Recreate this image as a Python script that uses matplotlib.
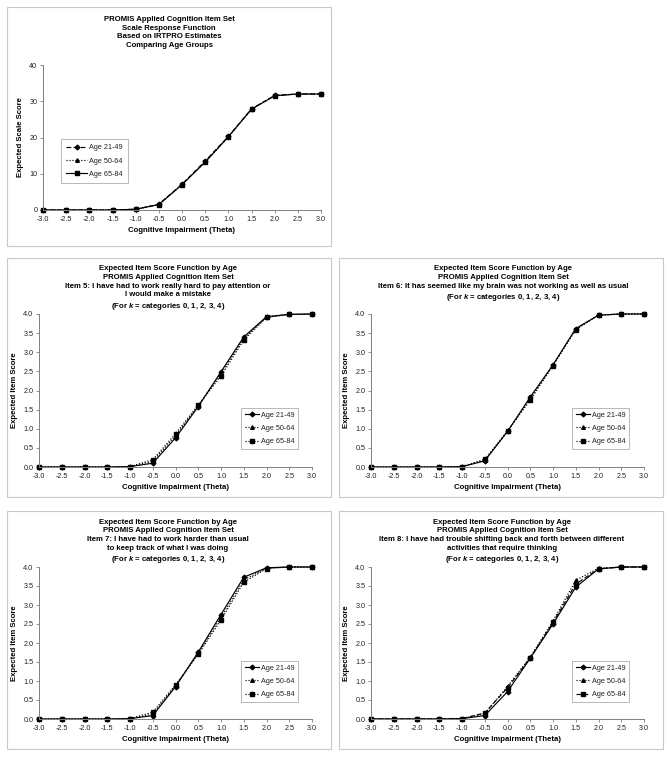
import matplotlib
matplotlib.use("Agg")
import matplotlib.pyplot as plt
from matplotlib.patches import Rectangle

plt.rcParams['font.family'] = ['Liberation Sans', 'DejaVu Sans']
plt.rcParams['mathtext.fontset'] = 'custom'
plt.rcParams['mathtext.it'] = 'Liberation Sans:bold:italic'
plt.rcParams['mathtext.rm'] = 'Liberation Sans:bold'

# ---------------- data ----------------
theta = [-3.0, -2.5, -2.0, -1.5, -1.0, -0.5, 0.0, 0.5, 1.0, 1.5, 2.0, 2.5, 3.0]
groups = ["Age 21-49", "Age 50-64", "Age 65-84"]

scale_21_49 = [0, 0, 0, 0, 0.2, 1.6, 7.1, 13.5, 20.3, 27.9, 31.6, 32.0, 32.0]
scale_50_64 = [0, 0, 0, 0, 0.2, 1.5, 7.0, 13.3, 20.1, 27.8, 31.6, 32.0, 32.0]
scale_65_84 = [0, 0, 0, 0, 0.2, 1.5, 7.0, 13.2, 20.2, 27.8, 31.5, 32.0, 32.0]

item5_21_49 = [0, 0, 0, 0, 0.01, 0.10, 0.76, 1.58, 2.49, 3.40, 3.93, 3.99, 4.0]
item5_50_64 = [0, 0, 0, 0, 0.01, 0.15, 0.82, 1.60, 2.45, 3.36, 3.92, 3.99, 4.0]
item5_65_84 = [0, 0, 0, 0, 0.01, 0.19, 0.87, 1.62, 2.38, 3.32, 3.91, 3.99, 4.0]

item6_21_49 = [0, 0, 0, 0, 0.01, 0.16, 0.93, 1.83, 2.67, 3.62, 3.97, 4.0, 4.0]
item6_50_64 = [0, 0, 0, 0, 0.01, 0.18, 0.93, 1.79, 2.66, 3.60, 3.97, 4.0, 4.0]
item6_65_84 = [0, 0, 0, 0, 0.01, 0.20, 0.94, 1.75, 2.65, 3.59, 3.97, 4.0, 4.0]

item7_21_49 = [0, 0, 0, 0, 0.01, 0.09, 0.85, 1.76, 2.75, 3.73, 3.98, 4.0, 4.0]
item7_50_64 = [0, 0, 0, 0, 0.01, 0.13, 0.87, 1.73, 2.68, 3.66, 3.97, 4.0, 4.0]
item7_65_84 = [0, 0, 0, 0, 0.01, 0.18, 0.90, 1.70, 2.61, 3.60, 3.96, 4.0, 4.0]

item8_21_49 = [0, 0, 0, 0, 0.01, 0.09, 0.72, 1.60, 2.50, 3.47, 3.95, 4.0, 4.0]
item8_50_64 = [0, 0, 0, 0, 0.01, 0.14, 0.86, 1.63, 2.58, 3.65, 3.97, 4.0, 4.0]
item8_65_84 = [0, 0, 0, 0, 0.01, 0.16, 0.82, 1.61, 2.54, 3.55, 3.95, 4.0, 4.0]

x_ticks = [-3.0, -2.5, -2.0, -1.5, -1.0, -0.5, 0.0, 0.5, 1.0, 1.5, 2.0, 2.5, 3.0]
scale_yticks = [0, 10, 20, 30, 40]
item_yticks = [0.0, 0.5, 1.0, 1.5, 2.0, 2.5, 3.0, 3.5, 4.0]

scale_title = ("PROMIS Applied Cognition Item Set\nScale Response Function\n"
               "Based on IRTPRO Estimates\nComparing Age Groups")
item5_title = ("Expected Item Score Function by Age\nPROMIS Applied Cognition Item Set\n"
               "Item 5: I have had to work really hard to pay attention or\n"
               "I would make a mistake\n(For $k$ = categories 0, 1, 2, 3, 4)")
item6_title = ("Expected Item Score Function by Age\nPROMIS Applied Cognition Item Set\n"
               "Item 6: It has seemed like my brain was not working as well as usual\n"
               "(For $k$ = categories 0, 1, 2, 3, 4)")
item7_title = ("Expected Item Score Function by Age\nPROMIS Applied Cognition Item Set\n"
               "Item 7: I have had to work harder than usual\n"
               "to keep track of what I was doing\n(For $k$ = categories 0, 1, 2, 3, 4)")
item8_title = ("Expected Item Score Function by Age\nPROMIS Applied Cognition Item Set\n"
               "Item 8: I have had trouble shifting back and forth between different\n"
               "activities that require thinking\n(For $k$ = categories 0, 1, 2, 3, 4)")

# ---------------- layout ----------------
W, H = 670, 759
fig = plt.figure(figsize=(W / 100, H / 100), dpi=100)
fig.patch.set_facecolor('white')


def fx(px):
    return px / W


def fy(py):
    return 1 - py / H


def box(x0, y0, x1, y1):
    fig.patches.append(Rectangle((fx(x0), fy(y1)), fx(x1) - fx(x0), fy(y0) - fy(y1),
                                 transform=fig.transFigure, fill=False,
                                 edgecolor='#c8c8c8', lw=0.8))


def make_axes(l, r, t, b):
    return fig.add_axes([fx(l), fy(b), fx(r) - fx(l), fy(t) - fy(b)])


AXC = '#808080'
TXT = '#222222'


def style(ax, yticks, yfmt, ylabel):
    ax.set_xlim(-3, 3)
    ax.set_ylim(yticks[0], yticks[-1])
    ax.set_xticks(x_ticks)
    ax.set_xticklabels([f"{v:.1f}" for v in x_ticks])
    ax.set_yticks(yticks)
    ax.set_yticklabels([yfmt(v) for v in yticks])
    for s in ['top', 'right']:
        ax.spines[s].set_visible(False)
    for s in ['left', 'bottom']:
        ax.spines[s].set_color(AXC)
        ax.spines[s].set_linewidth(0.7)
    ax.tick_params(axis='both', colors=AXC, labelcolor=TXT, labelsize=5.2,
                   length=2.5, width=0.6, pad=1.5, direction='out')
    ax.set_xlabel("Cognitive Impairment (Theta)", fontsize=5.6, fontweight='bold',
                  labelpad=3, color='black')
    ax.set_ylabel(ylabel, fontsize=5.6, fontweight='bold', labelpad=4, color='black')
    ax.patch.set_alpha(0)


def plot_series(ax, ys, styles, legend_px, hl, pad):
    for y, lab, (ls, mk, ms) in zip(ys, groups, styles):
        ax.plot(theta, y, linestyle=ls, color='black', lw=0.85, marker=mk,
                markersize=ms, markerfacecolor='black', markeredgecolor='black',
                label=lab, clip_on=False)
    lx, ly = legend_px
    leg = ax.legend(loc='upper left', bbox_to_anchor=(fx(lx), fy(ly)),
                    bbox_transform=fig.transFigure, fontsize=5.2, frameon=True,
                    fancybox=False, edgecolor='#999999', handlelength=hl,
                    labelspacing=0.85, borderpad=pad, handletextpad=0.3,
                    borderaxespad=0)
    leg.get_frame().set_linewidth(0.6)
    for t in leg.get_texts():
        t.set_color(TXT)


def title(cx, cy, txt):
    fig.text(fx(cx), fy(cy), txt, ha='center', va='center', ma='center',
             fontsize=5.6, fontweight='bold', linespacing=1.35)


# panel borders
box(7, 7, 331, 246)
box(7, 258, 331, 497)
box(339, 258, 663, 497)
box(7, 511, 331, 749)
box(339, 511, 663, 749)

scale_styles = [((0, (4, 2)), 'D', 2.4), ((0, (1, 1.5)), '^', 2.6), ('-', 's', 2.4)]
item_styles = [('-', 'D', 2.4), ((0, (1, 1.5)), '^', 2.6), ((0, (1, 1.5)), 's', 2.6)]
item8_styles = [('-', 'D', 2.4), ((0, (1, 1.5)), '^', 2.6), ((0, (4, 2)), 's', 2.6)]

# top panel
ax0 = make_axes(43, 321, 65, 210)
plot_series(ax0, [scale_21_49, scale_50_64, scale_65_84], scale_styles, (61, 139), 2.8, 0.75)
style(ax0, scale_yticks, lambda v: f"{v:d}", "Expected Scale Score")
title(169, 32.5, scale_title)

# item 5
ax1 = make_axes(39, 312, 314, 467)
plot_series(ax1, [item5_21_49, item5_50_64, item5_65_84], item_styles, (241, 408), 2.0, 0.5)
style(ax1, item_yticks, lambda v: f"{v:.1f}", "Expected Item Score")
title(168, 288.5, item5_title)

# item 6
ax2 = make_axes(371, 644, 314, 467)
plot_series(ax2, [item6_21_49, item6_50_64, item6_65_84], item_styles, (572, 408), 2.0, 0.5)
style(ax2, item_yticks, lambda v: f"{v:.1f}", "Expected Item Score")
title(503, 284, item6_title)

# item 7
ax3 = make_axes(39, 312, 567, 719)
plot_series(ax3, [item7_21_49, item7_50_64, item7_65_84], item_styles, (241, 661), 2.0, 0.5)
style(ax3, item_yticks, lambda v: f"{v:.1f}", "Expected Item Score")
title(168, 542, item7_title)

# item 8
ax4 = make_axes(371, 644, 567, 719)
plot_series(ax4, [item8_21_49, item8_50_64, item8_65_84], item8_styles, (572, 661), 2.0, 0.5)
style(ax4, item_yticks, lambda v: f"{v:.1f}", "Expected Item Score")
title(502, 542, item8_title)

fig.savefig("out.png", dpi=100, facecolor='white')
